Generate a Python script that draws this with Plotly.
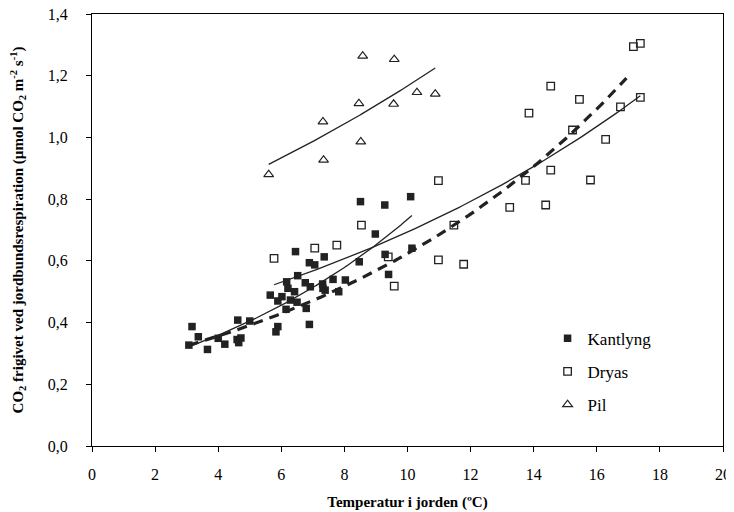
import numpy as np
import plotly.graph_objects as go

# ------------- Data -------------

kantlyng_x = [3.07, 3.17, 3.37, 3.66, 4.00, 4.21, 4.62, 4.60, 4.72, 4.65, 5.00,
              5.65, 5.89, 5.83, 5.89, 6.02, 6.17, 6.15, 6.21, 6.29, 6.42, 6.45,
              6.52, 6.50, 6.76, 6.89, 6.92, 6.79, 6.89, 7.06, 7.31, 7.36, 7.32,
              7.39, 7.64, 7.82, 8.03, 8.47, 8.51, 8.98, 9.28, 9.29, 9.40, 10.10,
              10.14]
kantlyng_y = [0.327, 0.387, 0.354, 0.313, 0.349, 0.330, 0.408, 0.345, 0.350, 0.335,
              0.405, 0.489, 0.387, 0.370, 0.470, 0.484, 0.532, 0.443, 0.511, 0.473,
              0.500, 0.630, 0.552, 0.466, 0.529, 0.594, 0.516, 0.446, 0.394, 0.587,
              0.525, 0.613, 0.511, 0.505, 0.540, 0.500, 0.538, 0.597, 0.792, 0.687,
              0.781, 0.621, 0.556, 0.808, 0.641]

dryas_x = [5.77, 7.06, 7.76, 8.54, 9.39, 9.58, 10.98, 10.98, 11.78, 11.47, 13.24,
           13.74, 13.85, 14.38, 14.54, 14.54, 15.23, 15.45, 15.80, 16.28, 16.75,
           17.16, 17.38, 17.38]
dryas_y = [0.608, 0.641, 0.651, 0.716, 0.613, 0.518, 0.860, 0.603, 0.589, 0.716,
           0.773, 0.861, 1.079, 0.781, 0.894, 1.166, 1.024, 1.123, 0.862, 0.994,
           1.099, 1.294, 1.305, 1.130]

pil_x = [5.60, 7.32, 7.34, 8.58, 8.46, 8.52, 9.58, 9.56, 10.30, 10.88]
pil_y = [0.880, 1.051, 0.927, 1.264, 1.110, 0.986, 1.253, 1.108, 1.146, 1.141]

# dashed curve (y = a * exp(b * x)), coefficients and span
dash_a = 0.245
dash_b = 0.0934
dash_span = [3.07, 16.94]

x_ticks = list(range(0, 21, 2))
y_ticks = [0.0, 0.2, 0.4, 0.6, 0.8, 1.0, 1.2, 1.4]

FONT = "Liberation Serif"
INK = "#222222"


def exp_trend(xs, ys):
    # Excel-style exponential trendline: least squares on ln(y)
    xs = np.asarray(xs)
    b, ln_a = np.polyfit(xs, np.log(ys), 1)
    xx = np.linspace(xs.min(), xs.max(), 120)
    return xx, np.exp(ln_a) * np.exp(b * xx)


fig = go.Figure()

# trend lines
for xs, ys in [(kantlyng_x, kantlyng_y), (dryas_x, dryas_y), (pil_x, pil_y)]:
    tx, ty = exp_trend(xs, ys)
    fig.add_trace(go.Scatter(x=tx, y=ty, mode="lines", showlegend=False,
                             line=dict(color=INK, width=1.3), hoverinfo="skip"))

dx = np.linspace(dash_span[0], dash_span[1], 120)
fig.add_trace(go.Scatter(x=dx, y=dash_a * np.exp(dash_b * dx), mode="lines",
                         showlegend=False, hoverinfo="skip",
                         line=dict(color=INK, width=3.2, dash="10px,7px")))

# markers
fig.add_trace(go.Scatter(
    x=kantlyng_x, y=kantlyng_y, mode="markers", name="Kantlyng", legendgroup="k",
    marker=dict(symbol="square", size=7.5, color=INK, line=dict(width=0)),
))
fig.add_trace(go.Scatter(
    x=dryas_x, y=dryas_y, mode="markers", name="Dryas", legendgroup="d",
    marker=dict(symbol="square-open", size=7.5, color=INK, line=dict(width=1.3)),
))
fig.add_trace(go.Scatter(
    x=pil_x, y=pil_y, mode="markers", name="Pil", legendgroup="p",
    marker=dict(symbol="triangle-up-open", size=8.5, color=INK, line=dict(width=1.2)),
))

# the page body adds an 8px offset, so the figure is a bit smaller than the window
fig.update_layout(
    width=726, height=504,
    margin=dict(l=84, r=11, t=6, b=66),
    paper_bgcolor="white", plot_bgcolor="white",
    separators=",.",
    font=dict(family=FONT, size=16, color="black"),
    legend=dict(x=0.722, y=0.29, xanchor="left", yanchor="top",
                bgcolor="rgba(0,0,0,0)", tracegroupgap=8,
                font=dict(family=FONT, size=17), itemwidth=30),
)

fig.update_xaxes(
    range=[0, 20], tickvals=x_ticks, showgrid=False, zeroline=False,
    showline=True, mirror=True, linecolor="black", linewidth=1,
    automargin=False, ticks="outside", ticklen=5, tickcolor="black",
    tickfont=dict(family=FONT, size=16), ticklabeloverflow="allow",
    ticklabelstandoff=9,
    title=dict(text="<b>Temperatur i jorden (ºC)</b>", standoff=14,
               font=dict(family=FONT, size=15)),
)
fig.update_yaxes(
    range=[0, 1.4], tickvals=y_ticks, tickformat=".1f", showgrid=False,
    zeroline=False, showline=True, mirror=True, linecolor="black", linewidth=1,
    automargin=False, ticks="outside", ticklen=5, tickcolor="black",
    tickfont=dict(family=FONT, size=16), ticklabeloverflow="allow",
    ticklabelstandoff=15,
    title=dict(text="<b>CO<sub>2</sub> frigivet ved jordbundsrespiration "
                    "(µmol CO<sub>2</sub> m<sup>-2</sup> s<sup>-1</sup>)</b>",
               standoff=20, font=dict(family=FONT, size=15)),
)

fig.write_html("out.html")
